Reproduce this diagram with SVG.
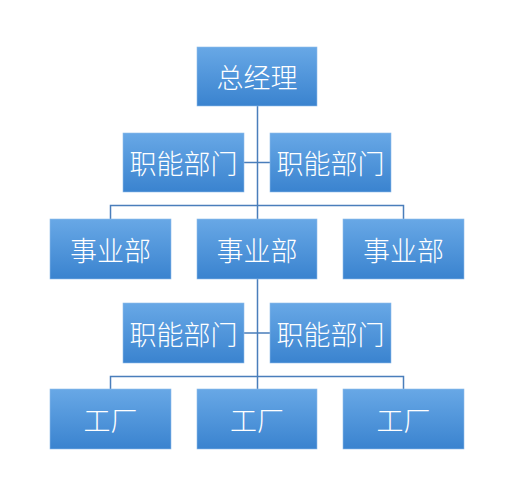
<svg xmlns="http://www.w3.org/2000/svg" width="525" height="478" viewBox="0 0 525 478">
<defs>
<linearGradient id="g" x1="0" y1="0" x2="0" y2="1">
<stop offset="0" stop-color="#68a8e6"/>
<stop offset="1" stop-color="#3a83cf"/>
</linearGradient>
<style>
.box{fill:url(#g);stroke:#8fbde9;stroke-width:0.6}
.t{fill:#ffffff;font-family:"Noto Sans CJK SC","Noto Sans",sans-serif;font-size:27px;font-weight:300;text-anchor:middle;dominant-baseline:central}
.c{fill:none;stroke:#4a7ebb;stroke-width:1.5}
</style>
</defs>
<rect width="525" height="478" fill="#ffffff"/>
<g id="connectors">
<path class="c" d="M257.5 106V219M244 162.5H270M110.5 219V205.5H403.5V219"/>
<path class="c" d="M257.5 279V389M244 333H270M110.5 389V376.5H403.5V389"/>
</g>
<g id="n_gm"><rect class="box" x="197" y="47" width="120" height="59"/><text class="t" x="257" y="76.5">总经理</text></g>
<g id="n_f1"><rect class="box" x="123" y="133" width="121" height="59"/><text class="t" x="183.5" y="162.5">职能部门</text></g>
<g id="n_f2"><rect class="box" x="270" y="133" width="121" height="59"/><text class="t" x="330.5" y="162.5">职能部门</text></g>
<g id="n_d1"><rect class="box" x="50" y="219" width="121" height="60"/><text class="t" x="110.5" y="249">事业部</text></g>
<g id="n_d2"><rect class="box" x="197" y="219" width="120" height="60"/><text class="t" x="257" y="249">事业部</text></g>
<g id="n_d3"><rect class="box" x="343" y="219" width="121" height="60"/><text class="t" x="403.5" y="249">事业部</text></g>
<g id="n_f3"><rect class="box" x="123" y="303" width="121" height="60"/><text class="t" x="183.5" y="333">职能部门</text></g>
<g id="n_f4"><rect class="box" x="270" y="303" width="121" height="60"/><text class="t" x="330.5" y="333">职能部门</text></g>
<g id="n_p1"><rect class="box" x="50" y="389" width="121" height="60"/><text class="t" x="110.5" y="419">工厂</text></g>
<g id="n_p2"><rect class="box" x="197" y="389" width="120" height="60"/><text class="t" x="257" y="419">工厂</text></g>
<g id="n_p3"><rect class="box" x="343" y="389" width="121" height="60"/><text class="t" x="403.5" y="419">工厂</text></g>
</svg>
